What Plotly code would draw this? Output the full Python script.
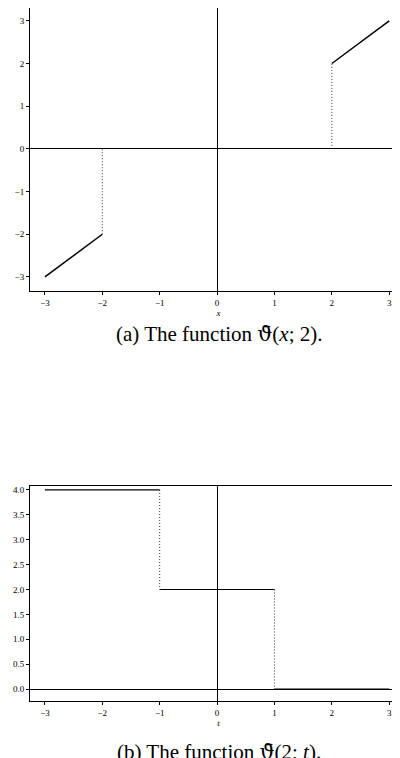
import plotly.graph_objects as go

# panel (a): theta(x;2)
a_solid = [([-3, -2], [-3, -2]), ([2, 3], [2, 3])]
a_dot = [([-2, -2], [-2, 0]), ([2, 2], [0, 2])]
# panel (b): theta(2;t)
b_solid = [([-3, -1], [4, 4]), ([-1, 1], [2, 2]), ([1, 3], [0, 0])]
b_dot = [([-1, -1], [4, 2]), ([1, 1], [2, 0])]

xticks = [-3, -2, -1, 0, 1, 2, 3]
yticks_a = [-3, -2, -1, 0, 1, 2, 3]
yticks_b = [0, 0.5, 1, 1.5, 2, 2.5, 3, 3.5, 4]

fig = go.Figure()
for xs, ys in a_solid:
    fig.add_trace(go.Scatter(x=xs, y=ys, mode="lines", line=dict(color="black", width=1.5), xaxis="x", yaxis="y"))
for xs, ys in a_dot:
    fig.add_trace(go.Scatter(x=xs, y=ys, mode="lines", line=dict(color="black", width=0.8, dash="1px,2px"), xaxis="x", yaxis="y"))
for xs, ys in b_solid:
    fig.add_trace(go.Scatter(x=xs, y=ys, mode="lines", line=dict(color="black", width=1.2), xaxis="x2", yaxis="y2"))
for xs, ys in b_dot:
    fig.add_trace(go.Scatter(x=xs, y=ys, mode="lines", line=dict(color="black", width=0.8, dash="1px,2px"), xaxis="x2", yaxis="y2"))

font = dict(family="Liberation Serif", size=9, color="black")
ax = dict(showgrid=False, zeroline=True, zerolinecolor="black", zerolinewidth=1,
          showline=True, linecolor="black", linewidth=1, mirror=True,
          ticks="outside", ticklen=3, tickcolor="black", tickfont=font)

fig.update_layout(
    width=400, height=758, autosize=False, showlegend=False,
    paper_bgcolor="white", plot_bgcolor="white",
    margin=dict(l=22, r=1, t=0, b=0, autoexpand=False),
    xaxis=dict(ax, domain=[0, 1], range=[-3.26, 3.31], tickvals=xticks, anchor="y",
               title=dict(text="<i>x</i>", font=font, standoff=2)),
    yaxis=dict(ax, domain=[0.6266, 1], range=[-3.33, 3.3], tickvals=yticks_a, anchor="x"),
    xaxis2=dict(ax, domain=[0, 1], range=[-3.26, 3.31], tickvals=xticks, anchor="y2",
                title=dict(text="<i>t</i>", font=font, standoff=2)),
    yaxis2=dict(ax, domain=[0.0858, 0.3694], range=[-0.24, 4.08], tickvals=yticks_b,
                tickformat=".1f", anchor="x2"),
)
cap = dict(family="Liberation Serif", size=21, color="black")
sym = '<span style="font-family:DejaVu Serif">ϑ̄</span>'
fig.add_annotation(text="(a) The function " + sym + "(<i>x</i>; 2).", x=0.5, y=1 - 326 / 758,
                   xref="paper", yref="paper", showarrow=False, font=cap, xanchor="center",
                   yanchor="middle")
fig.add_annotation(text="(b) The function " + sym + "(2; <i>t</i>).", x=0.5, y=0,
                   xref="paper", yref="paper", showarrow=False, font=cap, xanchor="center",
                   yanchor="bottom")
fig.write_html("out.html")
